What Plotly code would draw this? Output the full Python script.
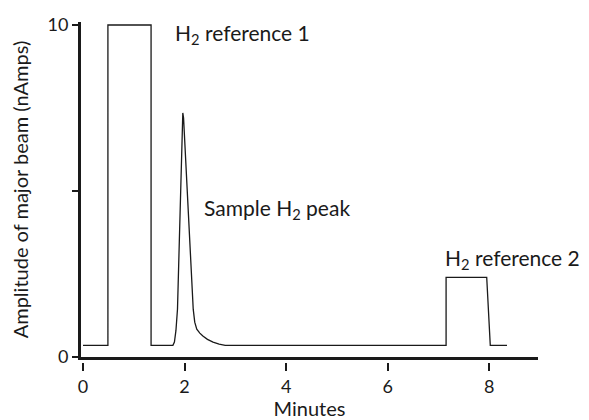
import plotly.graph_objects as go

# Data (minutes, nAmps)
minutes = [0.0, 0.49, 0.49, 1.34, 1.34, 1.77, 1.80, 1.83, 1.86, 1.95, 1.965, 1.98,
           2.17, 2.20, 2.24, 2.30, 2.36, 2.45, 2.56, 2.68, 2.80, 7.15, 7.15, 7.95,
           8.02, 8.35]
amplitude = [0.35, 0.35, 10.0, 10.0, 0.35, 0.35, 0.45, 0.8, 1.44, 7.2, 7.35, 7.2,
             1.44, 1.05, 0.84, 0.72, 0.63, 0.53, 0.45, 0.39, 0.35, 0.35, 2.4, 2.4,
             0.35, 0.35]

x_ticks = [0, 2, 4, 6, 8]
y_ticks = [0, 5, 10]
y_tick_labels = ["0", "", "10"]

labels = ["H<sub>2</sub> reference 1", "Sample H<sub>2</sub> peak", "H<sub>2</sub> reference 2"]
label_x = [1.77, 2.34, 7.09]
label_y = [9.73, 4.46, 2.95]

FONT = "Lato"
ink = "#1a1a1a"
X_RANGE = [-0.04, 8.96]

fig = go.Figure()
fig.add_trace(go.Scatter(x=minutes, y=amplitude, mode="lines",
                         line=dict(color=ink, width=1.3), hoverinfo="skip"))
# invisible copy so the tick-only overlay axis is rendered
fig.add_trace(go.Scatter(x=minutes, y=amplitude, mode="lines", xaxis="x2",
                         line=dict(color="rgba(0,0,0,0)", width=0), hoverinfo="skip"))

for t, lx, ly in zip(labels, label_x, label_y):
    fig.add_annotation(x=lx, y=ly, xref="x", yref="y", text=t, showarrow=False,
                       xanchor="left", yanchor="middle",
                       font=dict(family=FONT, size=21, color=ink))

fig.update_layout(
    width=589, height=420,
    margin=dict(l=81, r=51, t=22, b=58, autoexpand=False),
    paper_bgcolor="white", plot_bgcolor="white",
    showlegend=False,
    font=dict(family=FONT, size=18, color=ink),
    xaxis=dict(range=X_RANGE, showline=True, linewidth=3, linecolor=ink,
               showgrid=False, zeroline=False, ticks="", showticklabels=False,
               automargin=False),
    xaxis2=dict(range=X_RANGE, overlaying="x", anchor="free", position=0,
                side="bottom", tickvals=x_ticks, ticks="outside", ticklen=8,
                tickwidth=2, tickcolor=ink, showline=False, showgrid=False,
                zeroline=False, tickfont=dict(family=FONT, size=18, color=ink),
                automargin=False,
                title=dict(text="Minutes", font=dict(family=FONT, size=20, color=ink),
                           standoff=6)),
    yaxis=dict(domain=[5 / 340, 1], range=[0, 10.09], tickvals=y_ticks,
               ticktext=y_tick_labels, ticks="outside", ticklen=6, tickwidth=2,
               tickcolor=ink, showline=True, linewidth=3, linecolor=ink,
               showgrid=False, zeroline=False, automargin=False,
               tickfont=dict(family=FONT, size=18, color=ink),
               title=dict(text="Amplitude of major beam (nAmps)",
                          font=dict(family=FONT, size=20, color=ink), standoff=14)),
)

fig.write_html("out.html")
